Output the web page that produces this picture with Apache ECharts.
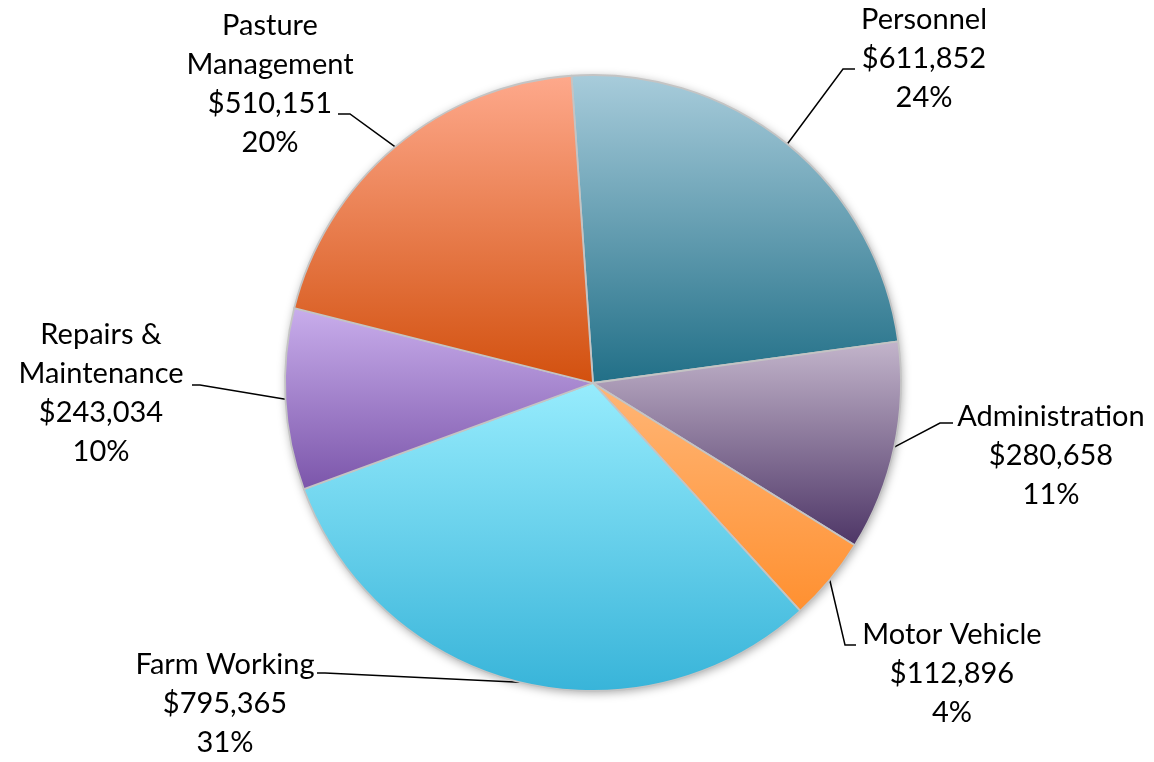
<!DOCTYPE html>
<html>
<head>
<meta charset="utf-8">
<script src="https://cdn.jsdelivr.net/npm/echarts@6/dist/echarts.min.js"></script>
<style>
  html, body { margin: 0; padding: 0; background: #fff; }
  #main { width: 1154px; height: 762px; }
</style>
</head>
<body>
<div id="main"></div>
<script>
var categories = ['Personnel', 'Administration', 'Motor Vehicle', 'Farm Working', 'Repairs &\nMaintenance', 'Pasture\nManagement'];
var costs = [611852, 280658, 112896, 795365, 243034, 510151];
var topColors = ['#a8ccdb', '#c3b5cb', '#ffb677', '#97ecfd', '#c9aeec', '#fea98c'];
var bottomColors = ['#216f87', '#4d3566', '#ff9030', '#38b4d9', '#7b55aa', '#d2500e'];

// where each label box sits (centre x, top y) and the bend/end of its leader line
var labelSpots = [
  { x: 924, y: 0, bend: [843, 69], end: [855, 69] },
  { x: 1051, y: 397, bend: [940, 423], end: [953, 423] },
  { x: 952, y: 615, bend: [845, 645], end: [856, 645] },
  { x: 225, y: 645, bend: [325, 673], end: [317, 673] },
  { x: 101, y: 315, bend: [200, 385], end: [192, 385] },
  { x: 270, y: 6, bend: [350, 114], end: [338, 114] }
];

function fillFor(i) {
  return new echarts.graphic.LinearGradient(0, 0, 0, 1, [
    { offset: 0, color: topColors[i] },
    { offset: 1, color: bottomColors[i] }
  ]);
}

var myChart = echarts.init(document.getElementById('main'));
var option = {
  animation: false,
  series: [
    {
      // soft shadow under the whole pie
      type: 'pie',
      silent: true,
      center: [593, 383],
      radius: 308,
      label: { show: false },
      labelLine: { show: false },
      itemStyle: {
        color: '#ffffff',
        shadowBlur: 10,
        shadowColor: 'rgba(0,0,0,0.35)',
        shadowOffsetX: 1,
        shadowOffsetY: 2
      },
      data: [{ value: 1, name: 'shadow' }],
      z: 1
    },
    {
      type: 'pie',
      center: [593, 383],
      radius: 308,
      startAngle: 94,
      clockwise: true,
      z: 2,
      itemStyle: {
        borderColor: '#c4c4c4',
        borderWidth: 1.8
      },
      label: {
        show: true,
        position: 'outside',
        fontFamily: 'Lato',
        fontSize: 29,
        lineHeight: 39,
        color: '#000',
        align: 'center',
        formatter: function (p) {
          return p.name + '\n$' + p.value.toLocaleString('en-US') + '\n' + Math.round(p.percent) + '%';
        }
      },
      labelLine: {
        show: true,
        length: 20,
        length2: 10,
        lineStyle: { color: '#000', width: 1.5 }
      },
      labelLayout: function (params) {
        var s = labelSpots[params.dataIndex];
        var start = params.labelLinePoints ? params.labelLinePoints[0] : s.bend;
        return {
          x: s.x,
          y: s.y,
          align: 'center',
          verticalAlign: 'top',
          labelLinePoints: [start, s.bend, s.end]
        };
      },
      data: categories.map(function (name, i) {
        return { name: name, value: costs[i], itemStyle: { color: fillFor(i) } };
      })
    }
  ]
};
myChart.setOption(option);
</script>
</body>
</html>
